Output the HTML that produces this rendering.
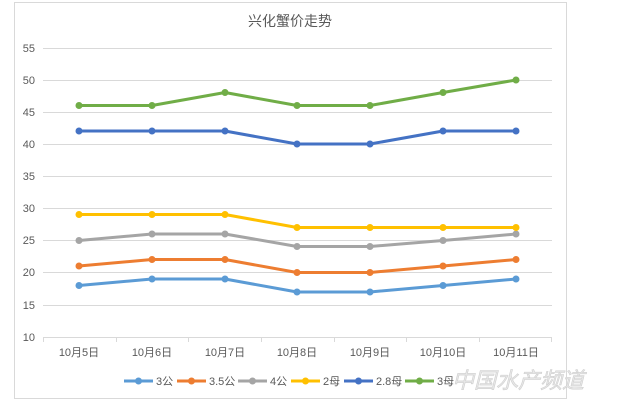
<!DOCTYPE html>
<html><head><meta charset="utf-8"><style>
html,body{margin:0;padding:0;background:#fff;}
svg{display:block;font-family:"Liberation Sans","Noto Sans CJK SC",sans-serif;}
</style></head><body>
<svg width="623" height="405" viewBox="0 0 623 405" xmlns="http://www.w3.org/2000/svg">
<rect x="14.5" y="2.5" width="552" height="396" fill="#fff" stroke="#d9d9d9"/>
<text x="290" y="26" font-size="14" fill="#595959" text-anchor="middle">兴化蟹价走势</text>
<g stroke="#d9d9d9" stroke-width="1">
<line x1="43" x2="552" y1="48.5" y2="48.5"/>
<line x1="43" x2="552" y1="80.5" y2="80.5"/>
<line x1="43" x2="552" y1="112.5" y2="112.5"/>
<line x1="43" x2="552" y1="144.5" y2="144.5"/>
<line x1="43" x2="552" y1="176.5" y2="176.5"/>
<line x1="43" x2="552" y1="208.5" y2="208.5"/>
<line x1="43" x2="552" y1="240.5" y2="240.5"/>
<line x1="43" x2="552" y1="272.5" y2="272.5"/>
<line x1="43" x2="552" y1="305.5" y2="305.5"/>
<line x1="43" x2="552" y1="337.5" y2="337.5"/>
<line x1="43.5" x2="43.5" y1="337" y2="342"/>
<line x1="116.5" x2="116.5" y1="337" y2="342"/>
<line x1="188.5" x2="188.5" y1="337" y2="342"/>
<line x1="261.5" x2="261.5" y1="337" y2="342"/>
<line x1="334.5" x2="334.5" y1="337" y2="342"/>
<line x1="406.5" x2="406.5" y1="337" y2="342"/>
<line x1="479.5" x2="479.5" y1="337" y2="342"/>
<line x1="551.5" x2="551.5" y1="337" y2="342"/>
</g>
<g font-size="11" fill="#595959" text-anchor="end">
<text x="35" y="52">55</text><text x="35" y="84">50</text><text x="35" y="116">45</text>
<text x="35" y="148">40</text><text x="35" y="180">35</text><text x="35" y="212">30</text>
<text x="35" y="244">25</text><text x="35" y="276">20</text><text x="35" y="309">15</text>
<text x="35" y="341">10</text>
</g>
<g font-size="11" fill="#595959" text-anchor="middle">
<text x="79" y="356">10月5日</text><text x="152" y="356">10月6日</text><text x="225" y="356">10月7日</text>
<text x="297" y="356">10月8日</text><text x="370" y="356">10月9日</text><text x="443" y="356">10月10日</text>
<text x="516" y="356">10月11日</text>
</g>
<g fill="none" stroke-width="3" stroke-linejoin="round">
<polyline stroke="#5b9bd5" points="79,285.5 152,279 225,279 297,292 370,292 443,285.5 516,279"/>
<polyline stroke="#ed7d31" points="79,266 152,259.5 225,259.5 297,272.5 370,272.5 443,266 516,259.5"/>
<polyline stroke="#a5a5a5" points="79,240.5 152,234 225,234 297,246.5 370,246.5 443,240.5 516,234"/>
<polyline stroke="#ffc000" points="79,214.5 152,214.5 225,214.5 297,227.5 370,227.5 443,227.5 516,227.5"/>
<polyline stroke="#4472c4" points="79,131 152,131 225,131 297,144 370,144 443,131 516,131"/>
<polyline stroke="#70ad47" points="79,105.5 152,105.5 225,92.5 297,105.5 370,105.5 443,92.5 516,80"/>
</g>
<g>
<g fill="#5b9bd5"><circle cx="79" cy="285.5" r="3.5"/><circle cx="152" cy="279" r="3.5"/><circle cx="225" cy="279" r="3.5"/><circle cx="297" cy="292" r="3.5"/><circle cx="370" cy="292" r="3.5"/><circle cx="443" cy="285.5" r="3.5"/><circle cx="516" cy="279" r="3.5"/></g>
<g fill="#ed7d31"><circle cx="79" cy="266" r="3.5"/><circle cx="152" cy="259.5" r="3.5"/><circle cx="225" cy="259.5" r="3.5"/><circle cx="297" cy="272.5" r="3.5"/><circle cx="370" cy="272.5" r="3.5"/><circle cx="443" cy="266" r="3.5"/><circle cx="516" cy="259.5" r="3.5"/></g>
<g fill="#a5a5a5"><circle cx="79" cy="240.5" r="3.5"/><circle cx="152" cy="234" r="3.5"/><circle cx="225" cy="234" r="3.5"/><circle cx="297" cy="246.5" r="3.5"/><circle cx="370" cy="246.5" r="3.5"/><circle cx="443" cy="240.5" r="3.5"/><circle cx="516" cy="234" r="3.5"/></g>
<g fill="#ffc000"><circle cx="79" cy="214.5" r="3.5"/><circle cx="152" cy="214.5" r="3.5"/><circle cx="225" cy="214.5" r="3.5"/><circle cx="297" cy="227.5" r="3.5"/><circle cx="370" cy="227.5" r="3.5"/><circle cx="443" cy="227.5" r="3.5"/><circle cx="516" cy="227.5" r="3.5"/></g>
<g fill="#4472c4"><circle cx="79" cy="131" r="3.5"/><circle cx="152" cy="131" r="3.5"/><circle cx="225" cy="131" r="3.5"/><circle cx="297" cy="144" r="3.5"/><circle cx="370" cy="144" r="3.5"/><circle cx="443" cy="131" r="3.5"/><circle cx="516" cy="131" r="3.5"/></g>
<g fill="#70ad47"><circle cx="79" cy="105.5" r="3.5"/><circle cx="152" cy="105.5" r="3.5"/><circle cx="225" cy="92.5" r="3.5"/><circle cx="297" cy="105.5" r="3.5"/><circle cx="370" cy="105.5" r="3.5"/><circle cx="443" cy="92.5" r="3.5"/><circle cx="516" cy="80" r="3.5"/></g>
</g>
<g font-size="11" fill="#595959" stroke-width="3">
<line x1="124" x2="153" y1="381" y2="381" stroke="#5b9bd5"/><circle cx="138.5" cy="381" r="3.5" fill="#5b9bd5"/><text x="156" y="385">3公</text>
<line x1="177" x2="206" y1="381" y2="381" stroke="#ed7d31"/><circle cx="191.5" cy="381" r="3.5" fill="#ed7d31"/><text x="209" y="385">3.5公</text>
<line x1="238" x2="267" y1="381" y2="381" stroke="#a5a5a5"/><circle cx="252.5" cy="381" r="3.5" fill="#a5a5a5"/><text x="270" y="385">4公</text>
<line x1="291" x2="320" y1="381" y2="381" stroke="#ffc000"/><circle cx="305.5" cy="381" r="3.5" fill="#ffc000"/><text x="323" y="385">2母</text>
<line x1="344" x2="373" y1="381" y2="381" stroke="#4472c4"/><circle cx="358.5" cy="381" r="3.5" fill="#4472c4"/><text x="376" y="385">2.8母</text>
<line x1="405" x2="434" y1="381" y2="381" stroke="#70ad47"/><circle cx="419.5" cy="381" r="3.5" fill="#70ad47"/><text x="437" y="385">3母</text>
</g>
<text x="452" y="388" font-size="22" fill="#e8e8e8" stroke="#cfcfcf" stroke-width="0.6" font-style="italic">中国水产频道</text>
</svg>
</body></html>
